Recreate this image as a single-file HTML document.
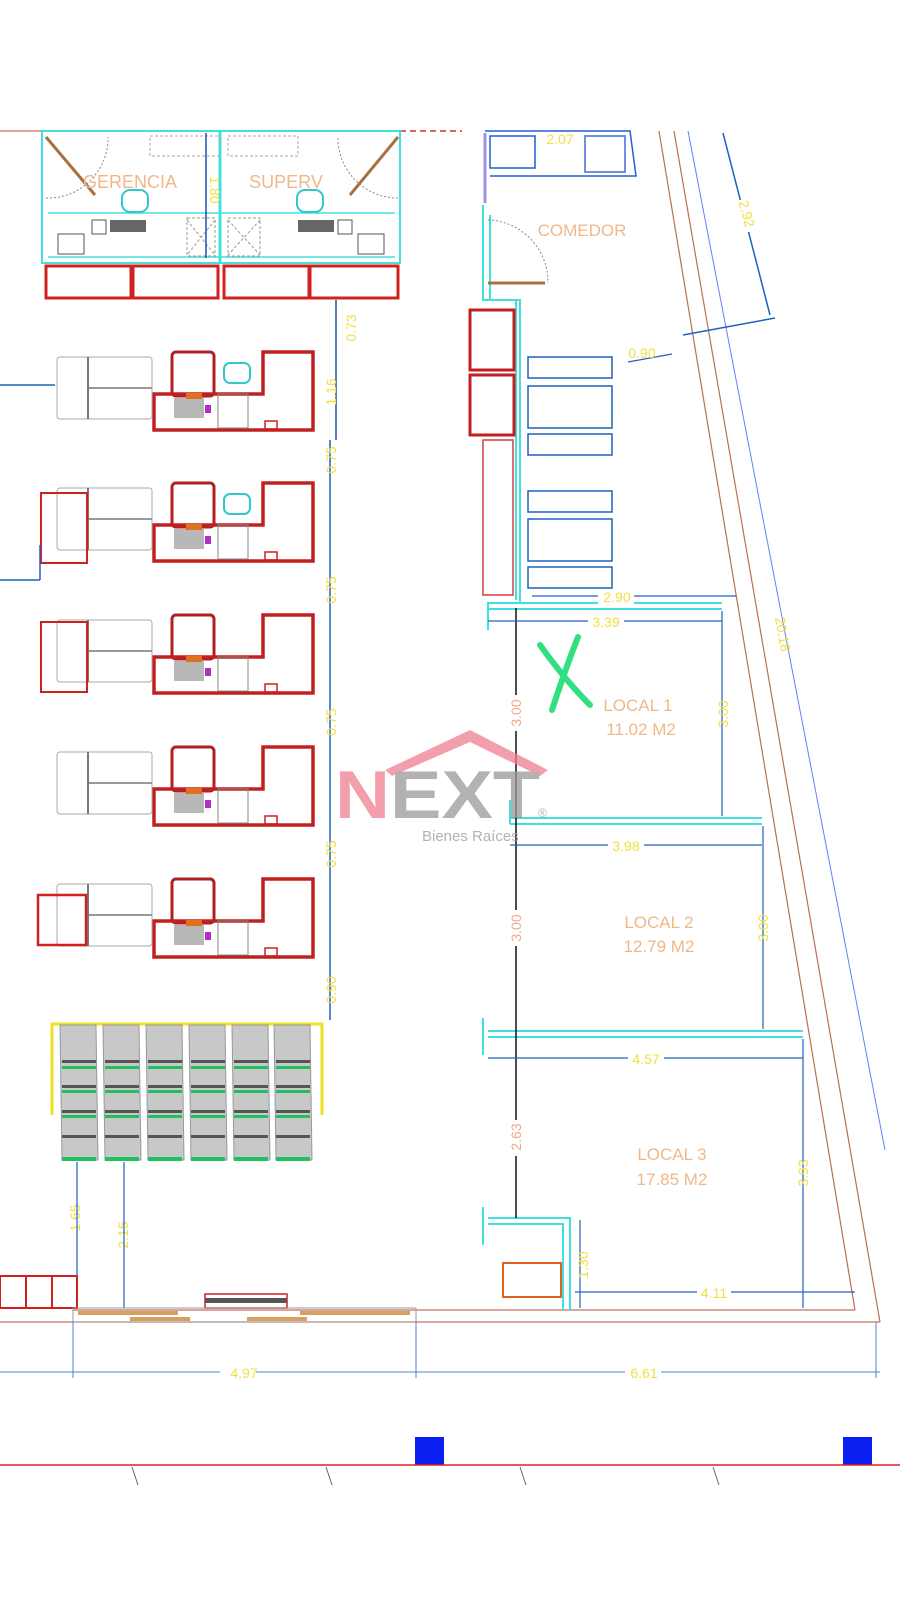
<!DOCTYPE html>
<html><head><meta charset="utf-8"><style>
html,body{margin:0;padding:0;background:#fff}
svg{display:block}
text{font-family:"Liberation Sans",sans-serif}
</style></head><body>
<svg width="900" height="1600" viewBox="0 0 900 1600" xmlns="http://www.w3.org/2000/svg">
<rect width="900" height="1600" fill="#fff"/>
<!-- top wall -->
<line x1="0" y1="131" x2="400" y2="131" stroke="#d0705a" stroke-width="1.2"/>
<line x1="400" y1="131" x2="462" y2="131" stroke="#d03030" stroke-width="1.5" stroke-dasharray="6,4"/>
<!-- offices -->
<g fill="none">
<rect x="42" y="131" width="358" height="132" stroke="#40e0e0" stroke-width="2"/>
<line x1="220" y1="131" x2="220" y2="263" stroke="#40e0e0" stroke-width="3"/>
<line x1="48" y1="213" x2="395" y2="213" stroke="#40e0e0" stroke-width="1.5"/>
<line x1="48" y1="257" x2="395" y2="257" stroke="#40e0e0" stroke-width="1.5"/>
<line x1="46" y1="137" x2="95" y2="195" stroke="#a87040" stroke-width="3"/>
<line x1="398" y1="137" x2="350" y2="195" stroke="#a87040" stroke-width="3"/>
<path d="M46 198 A60 60 0 0 0 108 137" stroke="#888" stroke-dasharray="2,2"/>
<path d="M398 198 A60 60 0 0 1 338 137" stroke="#888" stroke-dasharray="2,2"/>
<rect x="150" y="136" width="70" height="20" stroke="#aaa" stroke-dasharray="3,2"/>
<rect x="228" y="136" width="70" height="20" stroke="#aaa" stroke-dasharray="3,2"/>
<rect x="122" y="190" width="26" height="22" rx="8" stroke="#30c8c8" stroke-width="2"/>
<rect x="297" y="190" width="26" height="22" rx="8" stroke="#30c8c8" stroke-width="2"/>
<rect x="110" y="220" width="36" height="12" fill="#666"/>
<rect x="298" y="220" width="36" height="12" fill="#666"/>
<rect x="92" y="220" width="14" height="14" stroke="#555"/>
<rect x="338" y="220" width="14" height="14" stroke="#555"/>
<rect x="58" y="234" width="26" height="20" stroke="#555"/>
<rect x="358" y="234" width="26" height="20" stroke="#555"/>
<path d="M187 220 L215 255 M215 220 L187 255 M228 220 L260 255 M260 220 L228 255" stroke="#999" stroke-dasharray="3,2"/>
<rect x="187" y="218" width="28" height="38" stroke="#999" stroke-dasharray="3,2"/>
<rect x="228" y="218" width="32" height="38" stroke="#999" stroke-dasharray="3,2"/>
<rect x="46" y="266" width="85" height="32" stroke="#d02020" stroke-width="3"/>
<rect x="133" y="266" width="85" height="32" stroke="#d02020" stroke-width="3"/>
<rect x="224" y="266" width="85" height="32" stroke="#d02020" stroke-width="3"/>
<rect x="310" y="266" width="88" height="32" stroke="#d02020" stroke-width="3"/>
<line x1="206" y1="133" x2="206" y2="258" stroke="#2050b0" stroke-width="1.5"/>
<line x1="336" y1="300" x2="336" y2="440" stroke="#2050b0" stroke-width="1.5"/>
</g>
<text x="130" y="188" font-size="18" fill="#f0b888" text-anchor="middle">GERENCIA</text>
<text x="286" y="188" font-size="18" fill="#f0b888" text-anchor="middle">SUPERV</text>
<text transform="translate(210,190) rotate(90)" font-size="14" fill="#f0e040" text-anchor="middle">1.80</text>
<!-- checkouts -->
<g fill="none">
<g id="ck">
<rect x="172" y="352" width="42" height="44" rx="4" stroke="#b02020" stroke-width="3"/>
<path d="M263 352 H313 V430 H154 V394 H263 Z" stroke="#c02020" stroke-width="3.5"/>
<rect x="218" y="394" width="30" height="34" stroke="#888"/>
<rect x="174" y="398" width="30" height="20" fill="#888" opacity=".6"/>
<rect x="186" y="393" width="16" height="6" fill="#e07020"/>
<rect x="205" y="405" width="6" height="8" fill="#b030c0"/>
<rect x="265" y="421" width="12" height="8" stroke="#d02020" stroke-width="1.5"/>
<rect x="57" y="357" width="95" height="62" rx="3" stroke="#aaa"/>
<line x1="88" y1="357" x2="88" y2="419" stroke="#777" stroke-width="2"/>
<line x1="88" y1="388" x2="152" y2="388" stroke="#777" stroke-width="1.5"/>
</g>
<use href="#ck" y="131"/><use href="#ck" y="263"/><use href="#ck" y="395"/><use href="#ck" y="527"/>
<rect x="224" y="363" width="26" height="20" rx="6" stroke="#30c8c8" stroke-width="2"/>
<rect x="224" y="494" width="26" height="20" rx="6" stroke="#30c8c8" stroke-width="2"/>
<rect x="41" y="493" width="46" height="70" stroke="#d02020" stroke-width="2"/>
<rect x="41" y="622" width="46" height="70" stroke="#d02020" stroke-width="2"/>
<rect x="38" y="895" width="48" height="50" stroke="#d02020" stroke-width="2.5"/>
<line x1="0" y1="385" x2="55" y2="385" stroke="#2060c0" stroke-width="1.5"/>
<line x1="0" y1="580" x2="40" y2="580" stroke="#2060c0" stroke-width="1.5"/>
<line x1="40" y1="545" x2="40" y2="580" stroke="#2060c0" stroke-width="1.5"/>
<line x1="330" y1="440" x2="330" y2="1020" stroke="#2060c0" stroke-width="1.5"/>
</g>
<g font-size="14" fill="#f0e040" text-anchor="middle">
<text transform="translate(356,328) rotate(-90)">0.73</text>
<text transform="translate(336,392) rotate(-90)">1.16</text>
<text transform="translate(336,460) rotate(-90)">0.75</text>
<text transform="translate(336,590) rotate(-90)">0.75</text>
<text transform="translate(336,722) rotate(-90)">0.75</text>
<text transform="translate(336,854) rotate(-90)">0.75</text>
<text transform="translate(336,990) rotate(-90)">0.90</text>
<text transform="translate(80,1218) rotate(-90)">1.65</text>
<text transform="translate(128,1235) rotate(-90)">2.15</text>
</g>
<!-- carts -->
<g>
<path d="M52 1115 V1024 H322 V1115" fill="none" stroke="#f0e020" stroke-width="3"/>
<g id="cart"><path d="M60 1025 H96 L98 1160 H62 Z" fill="#c8c8c8" stroke="#999"/>
<rect x="62" y="1060" width="34" height="3" fill="#555"/><rect x="62" y="1066" width="34" height="3" fill="#20c060"/>
<rect x="62" y="1085" width="34" height="3" fill="#555"/><rect x="62" y="1090" width="34" height="3" fill="#20c060"/>
<rect x="62" y="1110" width="34" height="3" fill="#555"/><rect x="62" y="1115" width="34" height="3" fill="#20c060"/>
<rect x="62" y="1135" width="34" height="3" fill="#555"/><rect x="62" y="1157" width="34" height="4" fill="#20c060"/></g>
<use href="#cart" x="43"/><use href="#cart" x="86"/><use href="#cart" x="129"/><use href="#cart" x="172"/><use href="#cart" x="214"/>
</g>
<line x1="77" y1="1162" x2="77" y2="1300" stroke="#2060c0" stroke-width="1.2"/>
<line x1="124" y1="1162" x2="124" y2="1308" stroke="#2060c0" stroke-width="1.2"/>
<rect x="0" y="1276" width="77" height="32" fill="none" stroke="#d02020" stroke-width="2"/>
<line x1="26" y1="1276" x2="26" y2="1308" stroke="#d02020" stroke-width="2"/>
<line x1="52" y1="1276" x2="52" y2="1308" stroke="#d02020" stroke-width="2"/>
<rect x="205" y="1294" width="82" height="14" fill="#fff" stroke="#d02020" stroke-width="1.5"/>
<rect x="205" y="1298" width="82" height="5" fill="#555"/>
<!-- bottom walls -->
<line x1="73" y1="1310" x2="855" y2="1310" stroke="#c07060" stroke-width="1.2"/>
<line x1="0" y1="1322" x2="880" y2="1322" stroke="#c07060" stroke-width="1.2"/>
<rect x="73" y="1308" width="343" height="14" fill="none" stroke="#999"/>
<rect x="78" y="1311" width="100" height="4" fill="#d8a060"/><rect x="300" y="1311" width="110" height="4" fill="#d8a060"/>
<rect x="130" y="1317" width="60" height="4" fill="#d8a060"/><rect x="247" y="1317" width="60" height="4" fill="#d8a060"/>
<g stroke="#5080e0" stroke-width="1">
<line x1="0" y1="1372" x2="880" y2="1372"/>
<line x1="73" y1="1322" x2="73" y2="1378"/><line x1="416" y1="1322" x2="416" y2="1378"/><line x1="876" y1="1322" x2="876" y2="1378"/>
</g>
<rect x="220" y="1364" width="36" height="14" fill="#fff"/><text x="244" y="1378" font-size="14" fill="#f0e040" text-anchor="middle">4.97</text>
<rect x="625" y="1364" width="36" height="14" fill="#fff"/><text x="644" y="1378" font-size="14" fill="#f0e040" text-anchor="middle">6.61</text>
<rect x="415" y="1437" width="29" height="28" fill="#0a20f0"/>
<rect x="843" y="1437" width="29" height="28" fill="#0a20f0"/>
<line x1="0" y1="1465" x2="900" y2="1465" stroke="#e02020" stroke-width="1.5"/>
<g stroke="#666"><line x1="132" y1="1467" x2="138" y2="1485"/><line x1="326" y1="1467" x2="332" y2="1485"/><line x1="520" y1="1467" x2="526" y2="1485"/><line x1="713" y1="1467" x2="719" y2="1485"/></g>
<!-- diagonals -->
<line x1="659" y1="131" x2="855" y2="1310" stroke="#b87050" stroke-width="1.2"/>
<line x1="674" y1="131" x2="880" y2="1322" stroke="#b87050" stroke-width="1.2"/>
<line x1="688" y1="131" x2="885" y2="1150" stroke="#6080ff" stroke-width="1"/>
<line x1="723" y1="133" x2="770" y2="315" stroke="#2060c0" stroke-width="1.5"/>
<line x1="683" y1="335" x2="775" y2="318" stroke="#2060c0" stroke-width="1.5"/>
<line x1="628" y1="362" x2="672" y2="354" stroke="#2060c0" stroke-width="1.2"/>
<rect x="730" y="200" width="20" height="32" fill="#fff"/>
<text transform="translate(742,215) rotate(75)" font-size="14" fill="#f0e040" text-anchor="middle">2.92</text>
<text x="642" y="358" font-size="14" fill="#f0e040" text-anchor="middle">0.90</text>
<text transform="translate(778,635) rotate(80)" font-size="14" fill="#f0e040" text-anchor="middle">20.18</text>
<!-- right column -->
<g fill="none">
<path d="M485 131 H630 L636 176 H490" stroke="#2060d0" stroke-width="1.5"/>
<rect x="490" y="136" width="45" height="32" stroke="#2060d0" stroke-width="1.5"/>
<rect x="585" y="136" width="40" height="36" stroke="#7090e0" stroke-width="2"/>
<line x1="485" y1="133" x2="485" y2="203" stroke="#a090e0" stroke-width="3"/>
<path d="M483 205 V300 H516 V600" stroke="#40e0e0" stroke-width="2"/>
<path d="M490 215 V300 H520 V604" stroke="#40e0e0" stroke-width="2"/>
<line x1="488" y1="283" x2="545" y2="283" stroke="#a87040" stroke-width="3"/>
<path d="M488 220 A62 62 0 0 1 548 283" stroke="#888" stroke-dasharray="2,2"/>
<rect x="470" y="310" width="44" height="60" stroke="#c02020" stroke-width="3"/>
<rect x="470" y="375" width="44" height="60" stroke="#c02020" stroke-width="3"/>
<rect x="483" y="440" width="30" height="155" stroke="#d04040" stroke-width="1.5"/>
<rect x="528" y="357" width="84" height="21" stroke="#2060c0" stroke-width="1.5"/>
<rect x="528" y="386" width="84" height="42" stroke="#2060c0" stroke-width="1.5"/>
<rect x="528" y="434" width="84" height="21" stroke="#2060c0" stroke-width="1.5"/>
<rect x="528" y="491" width="84" height="21" stroke="#2060c0" stroke-width="1.5"/>
<rect x="528" y="519" width="84" height="42" stroke="#2060c0" stroke-width="1.5"/>
<rect x="528" y="567" width="84" height="21" stroke="#2060c0" stroke-width="1.5"/>
<line x1="532" y1="596" x2="736" y2="596" stroke="#2060c0" stroke-width="1.2"/>
<!-- locals -->
<path d="M488 630 V603 H722" stroke="#40e0e0" stroke-width="2"/>
<line x1="488" y1="609" x2="722" y2="609" stroke="#40e0e0" stroke-width="2"/>
<path d="M510 800 V824 M510 818 H762 M510 824 H762" stroke="#40e0e0" stroke-width="2"/>
<path d="M483 1018 V1055 M488 1031 H803 M488 1037 H803" stroke="#40e0e0" stroke-width="2"/>
<path d="M483 1207 V1245 M488 1218 H570 V1310 M488 1224 H563 V1310" stroke="#40e0e0" stroke-width="2"/>
<line x1="516" y1="608" x2="516" y2="1218" stroke="#111" stroke-width="1.5"/>
<g stroke="#2060c0" stroke-width="1.2">
<line x1="488" y1="621" x2="722" y2="621"/><line x1="722" y1="611" x2="722" y2="816"/>
<line x1="510" y1="845" x2="762" y2="845"/><line x1="763" y1="826" x2="763" y2="1029"/>
<line x1="488" y1="1058" x2="803" y2="1058"/><line x1="803" y1="1039" x2="803" y2="1308"/>
<line x1="575" y1="1292" x2="855" y2="1292"/><line x1="580" y1="1220" x2="580" y2="1308"/>
</g>
<rect x="503" y="1263" width="58" height="34" stroke="#e06020" stroke-width="2"/>
</g>
<path d="M540 645 Q565 680 590 705 M578 637 Q565 670 552 710" stroke="#30e080" stroke-width="6" fill="none" stroke-linecap="round"/>
<g font-size="14" fill="#f0e040" text-anchor="middle">
<text x="560" y="144">2.07</text>
<rect x="598" y="590" width="36" height="14" fill="#fff"/><text x="617" y="602">2.90</text>
<rect x="588" y="614" width="36" height="14" fill="#fff"/><text x="606" y="627">3.39</text>
<rect x="608" y="838" width="36" height="14" fill="#fff"/><text x="626" y="851">3.98</text>
<rect x="628" y="1051" width="36" height="14" fill="#fff"/><text x="646" y="1064">4.57</text>
<rect x="697" y="1285" width="34" height="14" fill="#fff"/><text x="714" y="1298">4.11</text>
<text transform="translate(728,714) rotate(-90)">3.00</text>
<text transform="translate(768,928) rotate(-90)">3.00</text>
<text transform="translate(808,1173) rotate(-90)">3.93</text>
<text transform="translate(588,1265) rotate(-90)">1.30</text>
</g>
<g font-size="14" fill="#f0a888" text-anchor="middle">
<rect x="508" y="695" width="16" height="36" fill="#fff"/><text transform="translate(521,713) rotate(-90)">3.00</text>
<rect x="508" y="910" width="16" height="36" fill="#fff"/><text transform="translate(521,928) rotate(-90)">3.00</text>
<rect x="508" y="1120" width="16" height="36" fill="#fff"/><text transform="translate(521,1137) rotate(-90)">2.63</text>
</g>
<g font-size="17" fill="#f0b888" text-anchor="middle">
<text x="582" y="236">COMEDOR</text>
<text x="638" y="711">LOCAL 1</text><text x="641" y="735">11.02 M2</text>
<text x="659" y="928">LOCAL 2</text><text x="659" y="952">12.79 M2</text>
<text x="672" y="1160">LOCAL 3</text><text x="672" y="1185">17.85 M2</text>
</g>
<!-- watermark -->
<g opacity="0.75">
<path d="M385 770 L470 730 L548 770 L540 776 L470 742 L392 776 Z" fill="#f08090"/>
<text x="335" y="818" font-size="68" font-weight="bold" fill="#f08090" textLength="55" lengthAdjust="spacingAndGlyphs">N</text>
<text x="390" y="818" font-size="68" font-weight="bold" fill="#999" textLength="150" lengthAdjust="spacingAndGlyphs">EXT</text>
<text x="538" y="817" font-size="12" fill="#999">®</text>
<text x="422" y="841" font-size="15" fill="#999">Bienes Raíces</text>
</g>
</svg>
</body></html>
